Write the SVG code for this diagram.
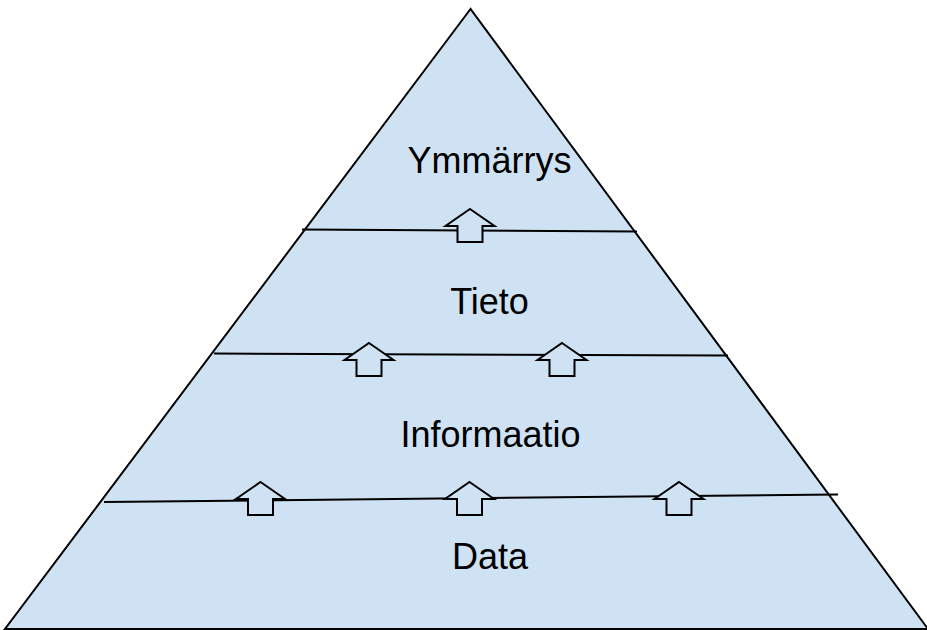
<svg xmlns="http://www.w3.org/2000/svg" xmlns:xlink="http://www.w3.org/1999/xlink" width="927" height="630" viewBox="0 0 927 630">
  <style>
    .shape { fill: #cfe2f3; stroke: #000; stroke-width: 2; stroke-linejoin: miter; }
    .sep { fill: none; stroke: #000; stroke-width: 2; }
    .lbl { font-family: "Liberation Sans", Arial, sans-serif; font-size: 36px; fill: #000; text-anchor: middle; }
  </style>
  <defs>
    <path id="arr" class="shape" d="M0,0 L24.5,17 L12.5,17 L12.5,33 L-12.5,33 L-12.5,17 L-24.5,17 Z"/>
  </defs>
  <g id="pyramid">
    <polygon class="shape" points="470.5,9 5,629 928,629"/>
  </g>
  <g id="connectors">
    <line class="sep" x1="302" y1="229.5" x2="637" y2="231.5"/>
    <line class="sep" x1="214" y1="353.5" x2="728" y2="355.5"/>
    <line class="sep" x1="104" y1="502" x2="838" y2="494.5"/>
    <use xlink:href="#arr" transform="translate(470,209)"/>
    <use xlink:href="#arr" transform="translate(369,343)"/>
    <use xlink:href="#arr" transform="translate(562,343)"/>
    <use xlink:href="#arr" transform="translate(260.5,482)"/>
    <use xlink:href="#arr" transform="translate(469.5,482)"/>
    <use xlink:href="#arr" transform="translate(679,482)"/>
  </g>
  <g id="level-ymmarrys"><text class="lbl" x="489.5" y="173">Ymmärrys</text></g>
  <g id="level-tieto"><text class="lbl" x="489.5" y="314">Tieto</text></g>
  <g id="level-informaatio"><text class="lbl" x="490.5" y="447">Informaatio</text></g>
  <g id="level-data"><text class="lbl" x="490" y="569">Data</text></g>
</svg>
